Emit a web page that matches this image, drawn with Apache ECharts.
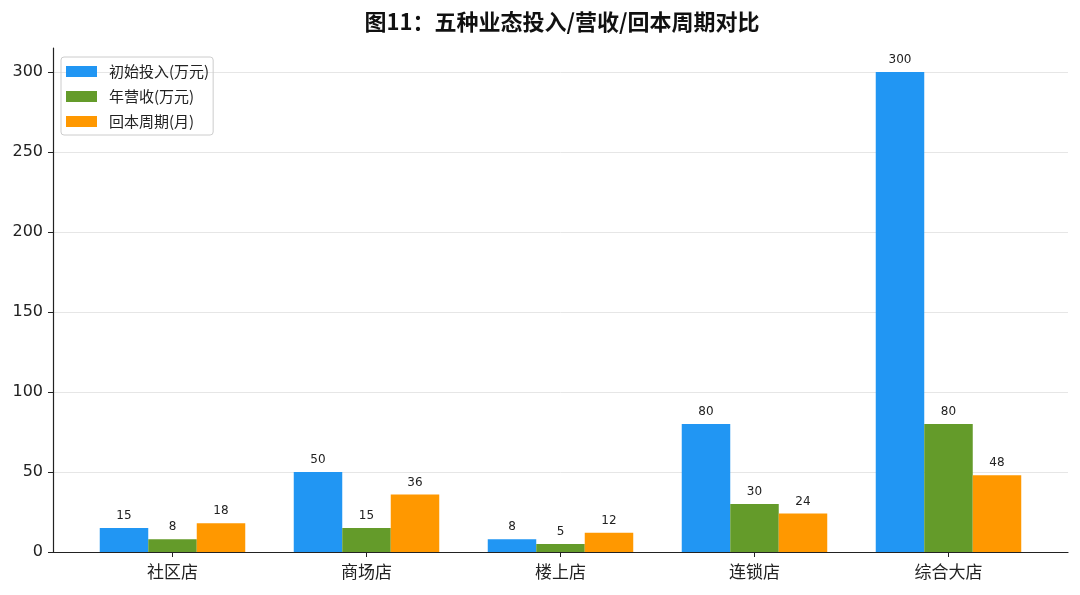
<!DOCTYPE html>
<html><head><meta charset="utf-8">
<script src="https://cdn.jsdelivr.net/npm/echarts@6/dist/echarts.min.js"></script>
<style>html,body{margin:0;padding:0;background:#fff}#c{width:1080px;height:595px}</style>
</head><body><div id="c"></div>
<script>
const categories = ['社区店', '商场店', '楼上店', '连锁店', '综合大店'];
const seriesNames = ['初始投入(万元)', '年营收(万元)', '回本周期(月)'];
const investment = [15, 50, 8, 80, 300];
const revenue = [8, 15, 5, 30, 80];
const payback = [18, 36, 12, 24, 48];
const yTicks = [0, 50, 100, 150, 200, 250, 300];
const colors = ['#2196F3', '#649B2A', '#FF9800'];
const FONT = "'DejaVu Sans', 'Noto Sans CJK SC', sans-serif";
const CJK = "'Noto Sans CJK SC', sans-serif";

const chart = echarts.init(document.getElementById('c'));
const mk = (name, vals, color) => ({
  name: name, type: 'bar', barWidth: '25%', barGap: '0%',
  data: vals.map((v, i) => [i, v]),
  itemStyle: { color: color },
  label: { show: true, position: 'top', distance: 6, fontSize: 12, color: '#222', fontFamily: FONT,
           formatter: p => p.value[1] }
});
chart.setOption({
  animation: false,
  title: { text: '图11：五种业态投入/营收/回本周期对比', left: 557, top: 6, textAlign: 'center',
           textStyle: { fontSize: 22, fontWeight: 'bold', color: '#111', fontFamily: CJK } },
  legend: { orient: 'vertical', left: 61, top: 57, padding: [7, 4, 6, 5],
            borderColor: '#cccccc', borderWidth: 1, borderRadius: 3,
            itemWidth: 31, itemHeight: 11, itemGap: 10, icon: 'rect',
            textStyle: { fontSize: 15, color: '#222', fontFamily: CJK, padding: [0, 0, 0, 7] },
            data: seriesNames },
  grid: { left: 53, right: 12, top: 48, bottom: 43, containLabel: false },
  xAxis: {
    type: 'value', min: -0.616, max: 4.616,
    axisLine: { show: true, onZero: false, lineStyle: { color: '#222', width: 1.2 } },
    axisTick: { show: true, length: 5, lineStyle: { color: '#222' }, customValues: [0, 1, 2, 3, 4] },
    axisLabel: { customValues: [0, 1, 2, 3, 4], formatter: v => categories[Math.round(v)] || '',
                 fontSize: 17, color: '#222', margin: 11, fontFamily: CJK },
    splitLine: { show: false }
  },
  yAxis: {
    type: 'value', min: 0, max: 315,
    axisLine: { show: true, onZero: false, lineStyle: { color: '#222', width: 1.2 } },
    axisTick: { show: true, length: 5, lineStyle: { color: '#222' }, customValues: yTicks },
    axisLabel: { customValues: yTicks, fontSize: 16, color: '#222', margin: 10, fontFamily: FONT },
    splitLine: { show: true, lineStyle: { color: '#e6e6e6', width: 1 } }
  },
  series: [mk(seriesNames[0], investment, colors[0]), mk(seriesNames[1], revenue, colors[1]), mk(seriesNames[2], payback, colors[2])]
});
</script></body></html>
